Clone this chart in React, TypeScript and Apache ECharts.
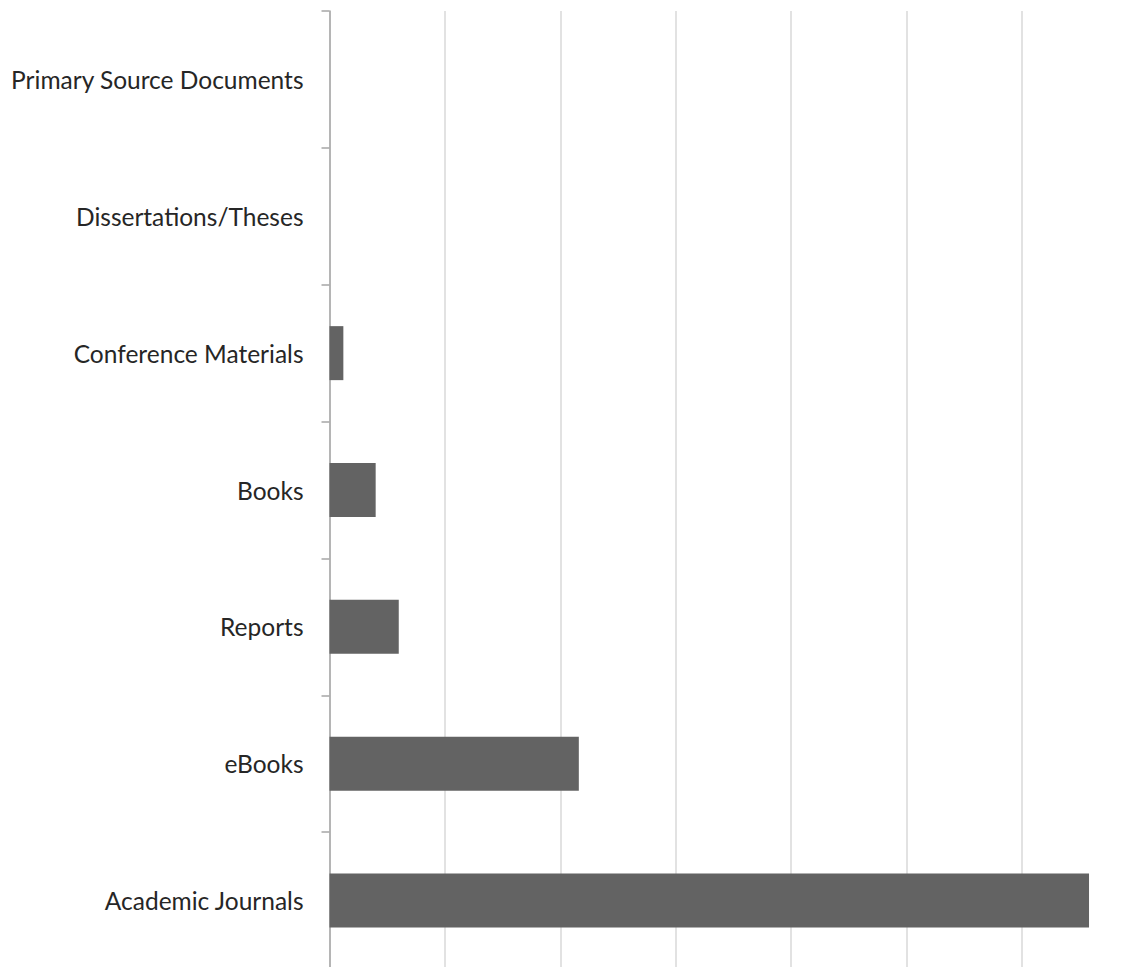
import React, { useEffect, useRef } from "react";
import * as echarts from "echarts";

const categories = [
  "Academic Journals",
  "eBooks",
  "Reports",
  "Books",
  "Conference Materials",
  "Dissertations/Theses",
  "Primary Source Documents",
];
const counts = [329, 108, 30, 20, 6, 0, 0];
const axisMin = 0;
const axisMax = 350;
const axisInterval = 50;

export default function App() {
  const ref = useRef<HTMLDivElement>(null);
  useEffect(() => {
    if (!ref.current) return;
    const chart = echarts.init(ref.current, null, { renderer: "svg" });
    chart.setOption({
      animation: false,
      backgroundColor: "#ffffff",
      grid: { left: 329.5, right: 2.5, top: 11, bottom: 1, containLabel: false },
      xAxis: {
        type: "value",
        min: axisMin,
        max: axisMax,
        interval: axisInterval,
        axisLabel: { show: false },
        axisLine: { show: false },
        axisTick: { show: false },
        splitLine: { show: true, lineStyle: { color: "#d9d9d9", width: 1.5 } },
      },
      yAxis: {
        type: "category",
        data: categories,
        axisLine: { show: true, lineStyle: { color: "#a6a6a6", width: 1.5 } },
        axisTick: { show: true, length: 8, lineStyle: { color: "#a6a6a6", width: 1.5 } },
        axisLabel: {
          margin: 26,
          fontFamily: "Lato",
          fontSize: 24.5,
          color: "#262626",
        },
        splitLine: { show: false },
      },
      series: [
        {
          type: "bar",
          data: counts,
          barWidth: 54,
          itemStyle: { color: "#636363" },
        },
      ],
    });
    return () => chart.dispose();
  }, []);
  return (
    <div
      style={{
        position: "absolute",
        left: 0,
        top: 0,
        width: 1126,
        height: 967,
        overflow: "hidden",
        background: "#ffffff",
      }}
    >
      <div ref={ref} style={{ width: 1140, height: 970 }} />
    </div>
  );
}
